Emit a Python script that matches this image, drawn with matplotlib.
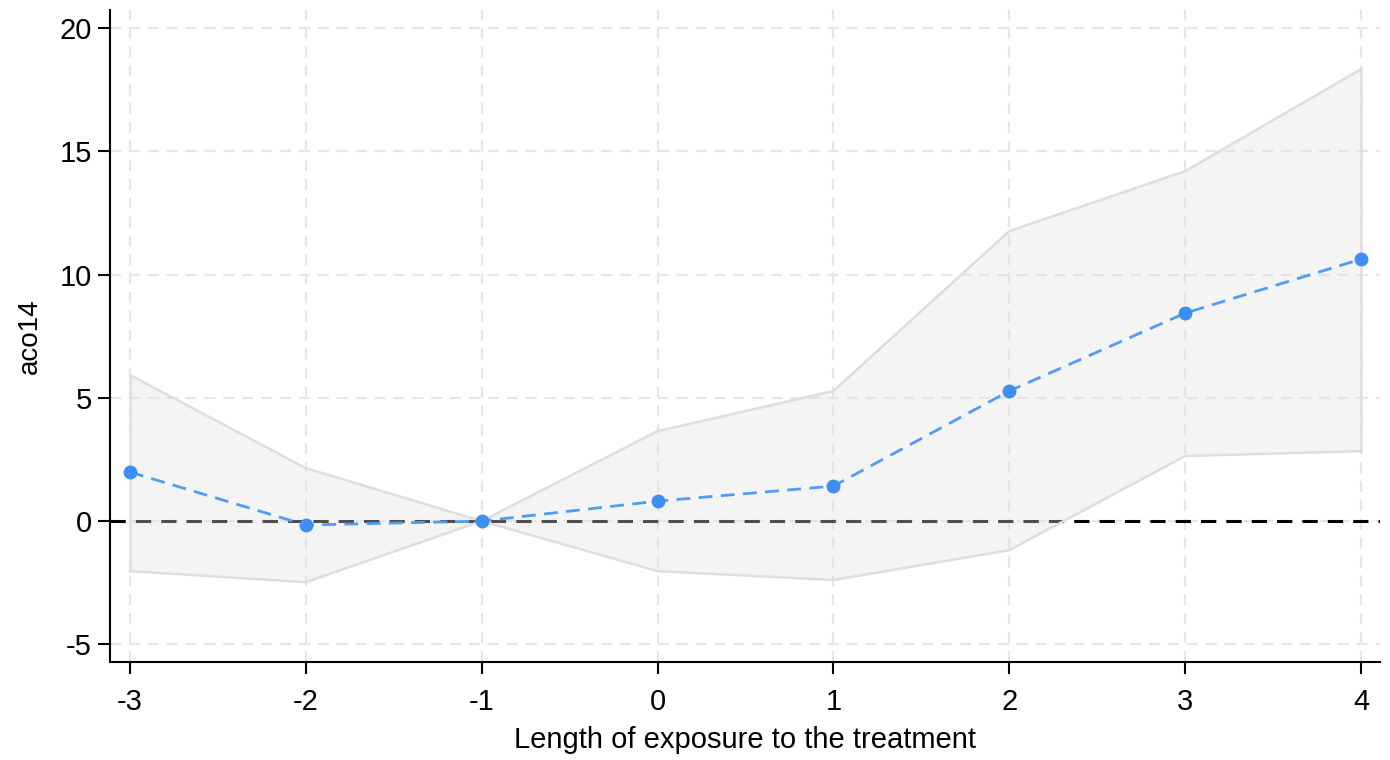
import numpy as np
import matplotlib.pyplot as plt

periods = [-3, -2, -1, 0, 1, 2, 3, 4]
estimate = [1.99, -0.16, 0.0, 0.81, 1.42, 5.28, 8.44, 10.63]
ci_upper = [5.93, 2.15, 0.0, 3.65, 5.28, 11.77, 14.2, 18.34]
ci_lower = [-2.03, -2.48, 0.0, -2.03, -2.39, -1.18, 2.64, 2.84]
yticks = [-5, 0, 5, 10, 15, 20]

plt.rcParams['font.family'] = ['Liberation Sans', 'DejaVu Sans']

fig = plt.figure(figsize=(13.9, 7.6), dpi=100)
ax = fig.add_axes([0.0791, 0.1289, 0.9137, 0.8579])
ax.set_axisbelow(True)

ax.grid(True, color='#e6e6e6', linestyle=(0, (5, 3.5)), linewidth=1.6)
ax.axhline(0, color='black', linestyle=(0, (5, 3.3)), linewidth=2.2, zorder=1)
ax.fill_between(periods, ci_lower, ci_upper, facecolor='#e2e2e2', alpha=0.35,
                edgecolor='none', zorder=2)
ax.plot(periods, ci_upper, color='#dedede', linewidth=1.8, zorder=2)
ax.plot(periods, ci_lower, color='#dedede', linewidth=1.8, zorder=2)
ax.plot([periods[0], periods[0]], [ci_lower[0], ci_upper[0]], color='#e0e0e0', linewidth=1.8, zorder=2)
ax.plot([periods[-1], periods[-1]], [ci_lower[-1], ci_upper[-1]], color='#e0e0e0', linewidth=1.8, zorder=2)
ax.plot(periods, estimate, color='#4f9cf5', linestyle=(0, (5, 3)), linewidth=2,
        marker='o', markersize=9, markerfacecolor='#3d8ff2', markeredgecolor='#3d8ff2',
        zorder=3, clip_on=False)

ax.set_xlim(-3.114, 4.108)
ax.set_ylim(-5.72, 20.74)
ax.set_xticks(periods)
ax.set_yticks(yticks)
ax.set_xticklabels([str(p) for p in periods])
ax.set_yticklabels([str(v) for v in yticks])
ax.tick_params(axis='both', direction='out', length=8.6, width=1.5, labelsize=21)
ax.tick_params(axis='x', pad=10)
ax.tick_params(axis='y', pad=4.5)

for side in ['top', 'right']:
    ax.spines[side].set_visible(False)
for side in ['left', 'bottom']:
    ax.spines[side].set_linewidth(1.5)

ax.set_xlabel('Length of exposure to the treatment', fontsize=21, labelpad=7)
ax.set_ylabel('aco14', fontsize=20, labelpad=12)

fig.savefig('out.png', dpi=100)
